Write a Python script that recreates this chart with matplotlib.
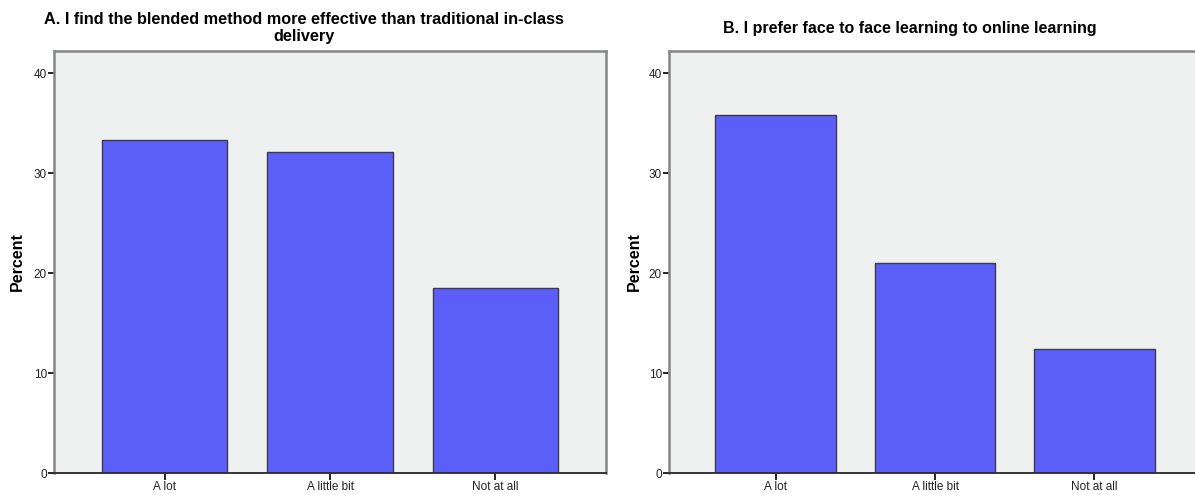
import matplotlib
matplotlib.use('Agg')
import matplotlib.pyplot as plt

categories = ['A lot', 'A little bit', 'Not at all']
blended_pct = [33.3, 32.1, 18.5]
face_pct = [35.8, 21.0, 12.4]
yticks = [0, 10, 20, 30, 40]

plt.rcParams['font.family'] = ['Liberation Sans', 'DejaVu Sans']

W, H = 1195, 495
fig = plt.figure(figsize=(W / 100, H / 100), dpi=100)

def px_axes(x0, x1, y_top, y_bot):
    return fig.add_axes([x0 / W, 1 - y_bot / H, (x1 - x0) / W, (y_bot - y_top) / H])

def draw_panel(ax, vals):
    ax.set_facecolor('#eff0f0')
    ax.bar(range(len(categories)), vals, width=0.757, color='#5c5ff7',
           edgecolor='#3a3a4a', linewidth=1.0, zorder=2)
    ax.set_xlim(-0.67, 2.67)
    ax.set_ylim(0, 42.2)
    ax.set_yticks(yticks)
    ax.set_xticks(range(len(categories)))
    ax.set_xticklabels(categories, fontsize=8.5, color='#222222')
    ax.tick_params(axis='y', labelsize=8.5, labelcolor='#222222', length=4,
                   width=1.2, pad=1)
    ax.tick_params(axis='x', length=5, width=1.2, pad=1)
    for s in ['top', 'right', 'left']:
        ax.spines[s].set_color('#858585')
        ax.spines[s].set_linewidth(1.8)
    ax.spines['bottom'].set_color('#333333')
    ax.spines['bottom'].set_linewidth(1.4)

ax1 = px_axes(54, 606, 51, 473)
draw_panel(ax1, blended_pct)
ax2 = px_axes(669, 1201, 51, 473)
draw_panel(ax2, face_pct)

fig.text(17 / W, 1 - 262 / H, 'Percent', rotation=90, ha='center', va='center',
         fontsize=11.5, fontweight='bold')
fig.text(634 / W, 1 - 262 / H, 'Percent', rotation=90, ha='center', va='center',
         fontsize=11.5, fontweight='bold')

fig.text(304 / W, 1 - 28 / H,
         'A. I find the blended method more effective than traditional in-class\ndelivery',
         ha='center', va='center', fontsize=11.7, fontweight='bold', linespacing=1.1)
fig.text(910 / W, 1 - 28 / H, 'B. I prefer face to face learning to online learning',
         ha='center', va='center', fontsize=11.5, fontweight='bold')

fig.savefig('out.png', dpi=100)
